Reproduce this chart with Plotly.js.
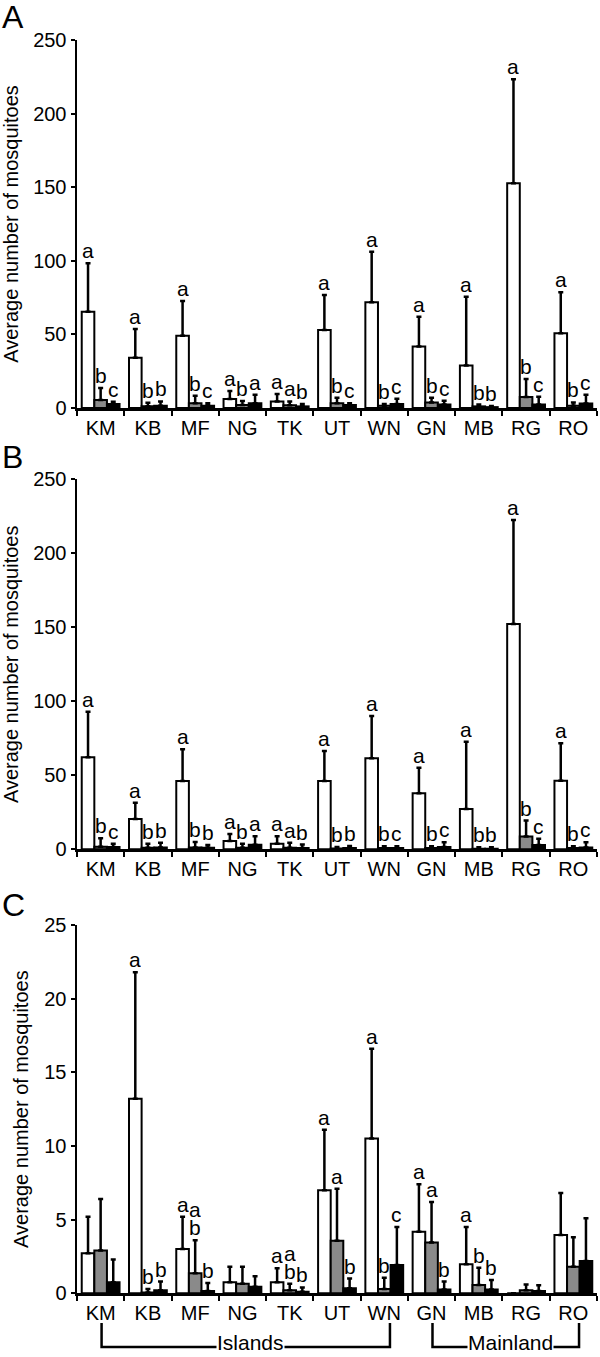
<!DOCTYPE html>
<html><head><meta charset="utf-8">
<script src="https://cdn.plot.ly/plotly-3.0.1.min.js"></script>
<style>html,body{margin:0;padding:0;background:#fff;}</style>
</head><body><div id="chart" style="width:600px;height:1357px;"></div>
<script>
// ---------- data ----------
const categories = ['KM','KB','MF','NG','TK','UT','WN','GN','MB','RG','RO'];
const yTitle = 'Average number of mosquitoes';
const panelLabels = ['A','B','C'];

// Panel A (mean and upper error)
const meanA1 = [65.4, 34.2, 49.1, 6.1, 4.5, 53.0, 71.8, 41.7, 28.8, 152.6, 50.7];
const errA1  = [32.9, 19.5, 23.6, 5.4, 5.0, 23.8, 34.4, 20.3, 46.8, 70.7, 27.9];
const meanA2 = [5.5, 1.2, 3.2, 2.0, 1.8, 3.2, 1.5, 3.7, 1.1, 7.5, 1.5];
const errA2  = [8.1, 2.4, 5.2, 2.8, 2.7, 3.8, 1.2, 3.3, 1.2, 12.2, 2.3];
const meanA3 = [2.7, 1.5, 1.5, 3.3, 1.1, 2.0, 2.7, 2.4, 0.6, 2.4, 3.1];
const errA3  = [1.6, 3.0, 1.7, 5.7, 1.6, 1.2, 3.6, 2.6, 0.8, 5.3, 5.9];
const lettersA1 = ['a','a','a','a','a','a','a','a','a','a','a'];
const lettersA2 = ['b','b','b','b','a','b','b','b','b','b','b'];
const lettersA3 = ['c','b','c','a','b','c','c','c','b','c','c'];

// Panel B
const meanB1 = [62.2, 20.5, 46.1, 5.6, 3.8, 46.1, 61.5, 37.8, 27.2, 152.2, 46.4];
const errB1  = [30.8, 11.0, 21.5, 4.8, 5.0, 20.3, 28.6, 17.3, 45.5, 70.3, 25.2];
const meanB2 = [1.8, 1.1, 1.3, 1.1, 1.1, 0.6, 0.9, 0.9, 0.4, 8.6, 0.9];
const errB2  = [5.6, 2.7, 3.7, 2.7, 3.4, 1.0, 1.1, 1.1, 1.0, 10.8, 1.1];
const meanB3 = [1.5, 1.3, 1.1, 3.1, 0.9, 0.9, 0.9, 1.5, 0.4, 2.9, 1.3];
const errB3  = [2.3, 3.2, 1.8, 5.7, 2.3, 1.4, 1.1, 3.2, 1.0, 4.3, 3.4];
const lettersB1 = ['a','a','a','a','a','a','a','a','a','a','a'];
const lettersB2 = ['b','b','b','b','a','b','b','b','b','b','b'];
const lettersB3 = ['c','b','b','a','b','b','c','c','b','c','c'];

// Panel C
const meanC1 = [2.72, 13.2, 3.0, 0.75, 0.75, 7.0, 10.5, 4.18, 1.97, 0, 3.96];
const errC1  = [2.48, 8.6, 2.2, 1.05, 0.95, 4.1, 6.1, 3.22, 2.53, null, 2.84];
const meanC2 = [2.9, 0.05, 1.36, 0.65, 0.2, 3.57, 0.3, 3.44, 0.56, 0.2, 1.8];
const errC2  = [3.5, 0.25, 2.24, 1.15, 0.45, 3.53, 0.76, 2.76, 1.18, 0.4, 2.0];
const meanC3 = [0.75, 0.2, 0.15, 0.45, 0.1, 0.35, 1.92, 0.25, 0.25, 0.15, 2.2];
const errC3  = [1.55, 0.6, 0.55, 0.7, 0.3, 0.65, 2.58, 0.55, 0.65, 0.4, 2.9];
const lettersC1 = ['','a','a','','a','a','a','a','a','',''];
const lettersC2 = ['','b','a/b','','a/b','a','b','a','b','',''];
const lettersC3 = ['','b','b','','b','b','c','b','b','',''];

const groupNames = ['Islands','Mainland'];
const groupSpans = [['KM','WN'],['GN','RO']];

// ---------- styling ----------
const FONT = 'Liberation Sans, Arial, Helvetica, sans-serif';
const fills = ['#ffffff','#8a8a8a','#000000'];
const W = 600, H = 1357, ML = 77, MR = 3;
const panels = [
  {means:[meanA1,meanA2,meanA3], errs:[errA1,errA2,errA3], letters:[lettersA1,lettersA2,lettersA3], range:[0,250], dtick:50, top:40, bottom:408, lab:16.5},
  {means:[meanB1,meanB2,meanB3], errs:[errB1,errB2,errB3], letters:[lettersB1,lettersB2,lettersB3], range:[0,250], dtick:50, top:479.3, bottom:849.3, lab:457},
  {means:[meanC1,meanC2,meanC3], errs:[errC1,errC2,errC3], letters:[lettersC1,lettersC2,lettersC3], range:[0,25], dtick:5, top:925, bottom:1293.3, lab:905}
];
const catPx = (W-ML-MR)/categories.length;
const barPx = catPx*0.8/3;

const traces = [];
const layout = {
  width: W, height: H, margin:{l:ML, r:MR, t:0, b:0},
  paper_bgcolor:'#fff', plot_bgcolor:'#fff', showlegend:false,
  barmode:'group', bargap:0.2, bargroupgap:0,
  font:{family:FONT, size:20, color:'#000'},
  annotations:[], shapes:[]
};

panels.forEach((p, pi) => {
  const xa = pi===0 ? 'x' : 'x'+(pi+1);
  const ya = pi===0 ? 'y' : 'y'+(pi+1);
  const xk = pi===0 ? 'xaxis' : 'xaxis'+(pi+1);
  const yk = pi===0 ? 'yaxis' : 'yaxis'+(pi+1);
  for (let s=0; s<3; s++) {
    traces.push({
      type:'bar', x:categories, y:p.means[s], xaxis:xa, yaxis:ya,
      marker:{color:fills[s], line:{color:'#000', width:2}},
      error_y:{type:'data', symmetric:false, array:p.errs[s], arrayminus:p.means[s].map(()=>0),
               color:'#000', thickness:2.5, width:2.5},
      hoverinfo:'skip'
    });
    // significance letters
    p.letters[s].forEach((lt, i) => {
      if (!lt) return;
      const parts = lt.split('/');
      const top = p.means[s][i] + (p.errs[s][i] || 0);
      parts.reverse().forEach((part, k) => {
        layout.annotations.push({
          xref:xa, yref:ya, x:categories[i], y:top, text:part, showarrow:false,
          xanchor:'center', yanchor:'bottom', xshift:(s-1)*barPx, yshift:3 + k*18,
          height:18, borderpad:0, font:{family:FONT, size:21, color:'#000'}
        });
      });
    });
  }
  layout[xk] = {
    domain:[0,1], anchor:ya, type:'category', tickson:'boundaries',
    ticks:'outside', ticklen:5, tickwidth:2, tickcolor:'#000',
    showline:true, linewidth:2.5, linecolor:'#000', showgrid:false, zeroline:false,
    tickfont:{family:FONT, size:20, color:'#000'}, range:[-0.5, categories.length-0.5],
    fixedrange:true
  };
  layout[yk] = {
    domain:[1-p.bottom/H, 1-p.top/H], anchor:xa, range:p.range, dtick:p.dtick,
    ticks:'outside', ticklen:4, tickwidth:2, tickcolor:'#000',
    showline:true, linewidth:2.5, linecolor:'#000', showgrid:false, zeroline:false,
    tickfont:{family:FONT, size:20, color:'#000'},
    title:{text:yTitle, font:{family:FONT, size:20, color:'#000'}, standoff:10},
    fixedrange:true
  };
  layout.annotations.push({
    xref:'paper', yref:'paper', x:-ML/(W-ML-MR), y:1-p.lab/H, xanchor:'left', yanchor:'middle',
    text:panelLabels[pi], showarrow:false, font:{family:FONT, size:32, color:'#000'}
  });
});

// group brackets for panel C
const bracketTop = 1323, bracketBot = 1347, groupTextY = 1342.5;
groupNames.forEach((g, gi) => {
  const i0 = categories.indexOf(groupSpans[gi][0]);
  const i1 = categories.indexOf(groupSpans[gi][1]);
  const yT = 1-bracketTop/H, yB = 1-bracketBot/H;
  layout.shapes.push({
    type:'path', xref:'x3', yref:'paper',
    path:`M ${i0+0.02} ${yT} L ${i0+0.02} ${yB} L ${i1+0.12} ${yB} L ${i1+0.12} ${yT}`,
    line:{color:'#000', width:2.5}
  });
  layout.annotations.push({
    xref:'x3', yref:'paper', x:(i0+i1)/2, y:1-groupTextY/H, text:g, showarrow:false,
    xanchor:'center', yanchor:'middle', xshift:8, bgcolor:'#ffffff', borderpad:0,
    font:{family:FONT, size:21, color:'#000'}
  });
});

Plotly.newPlot('chart', traces, layout, {displayModeBar:false, staticPlot:true});
</script>
</body></html>
